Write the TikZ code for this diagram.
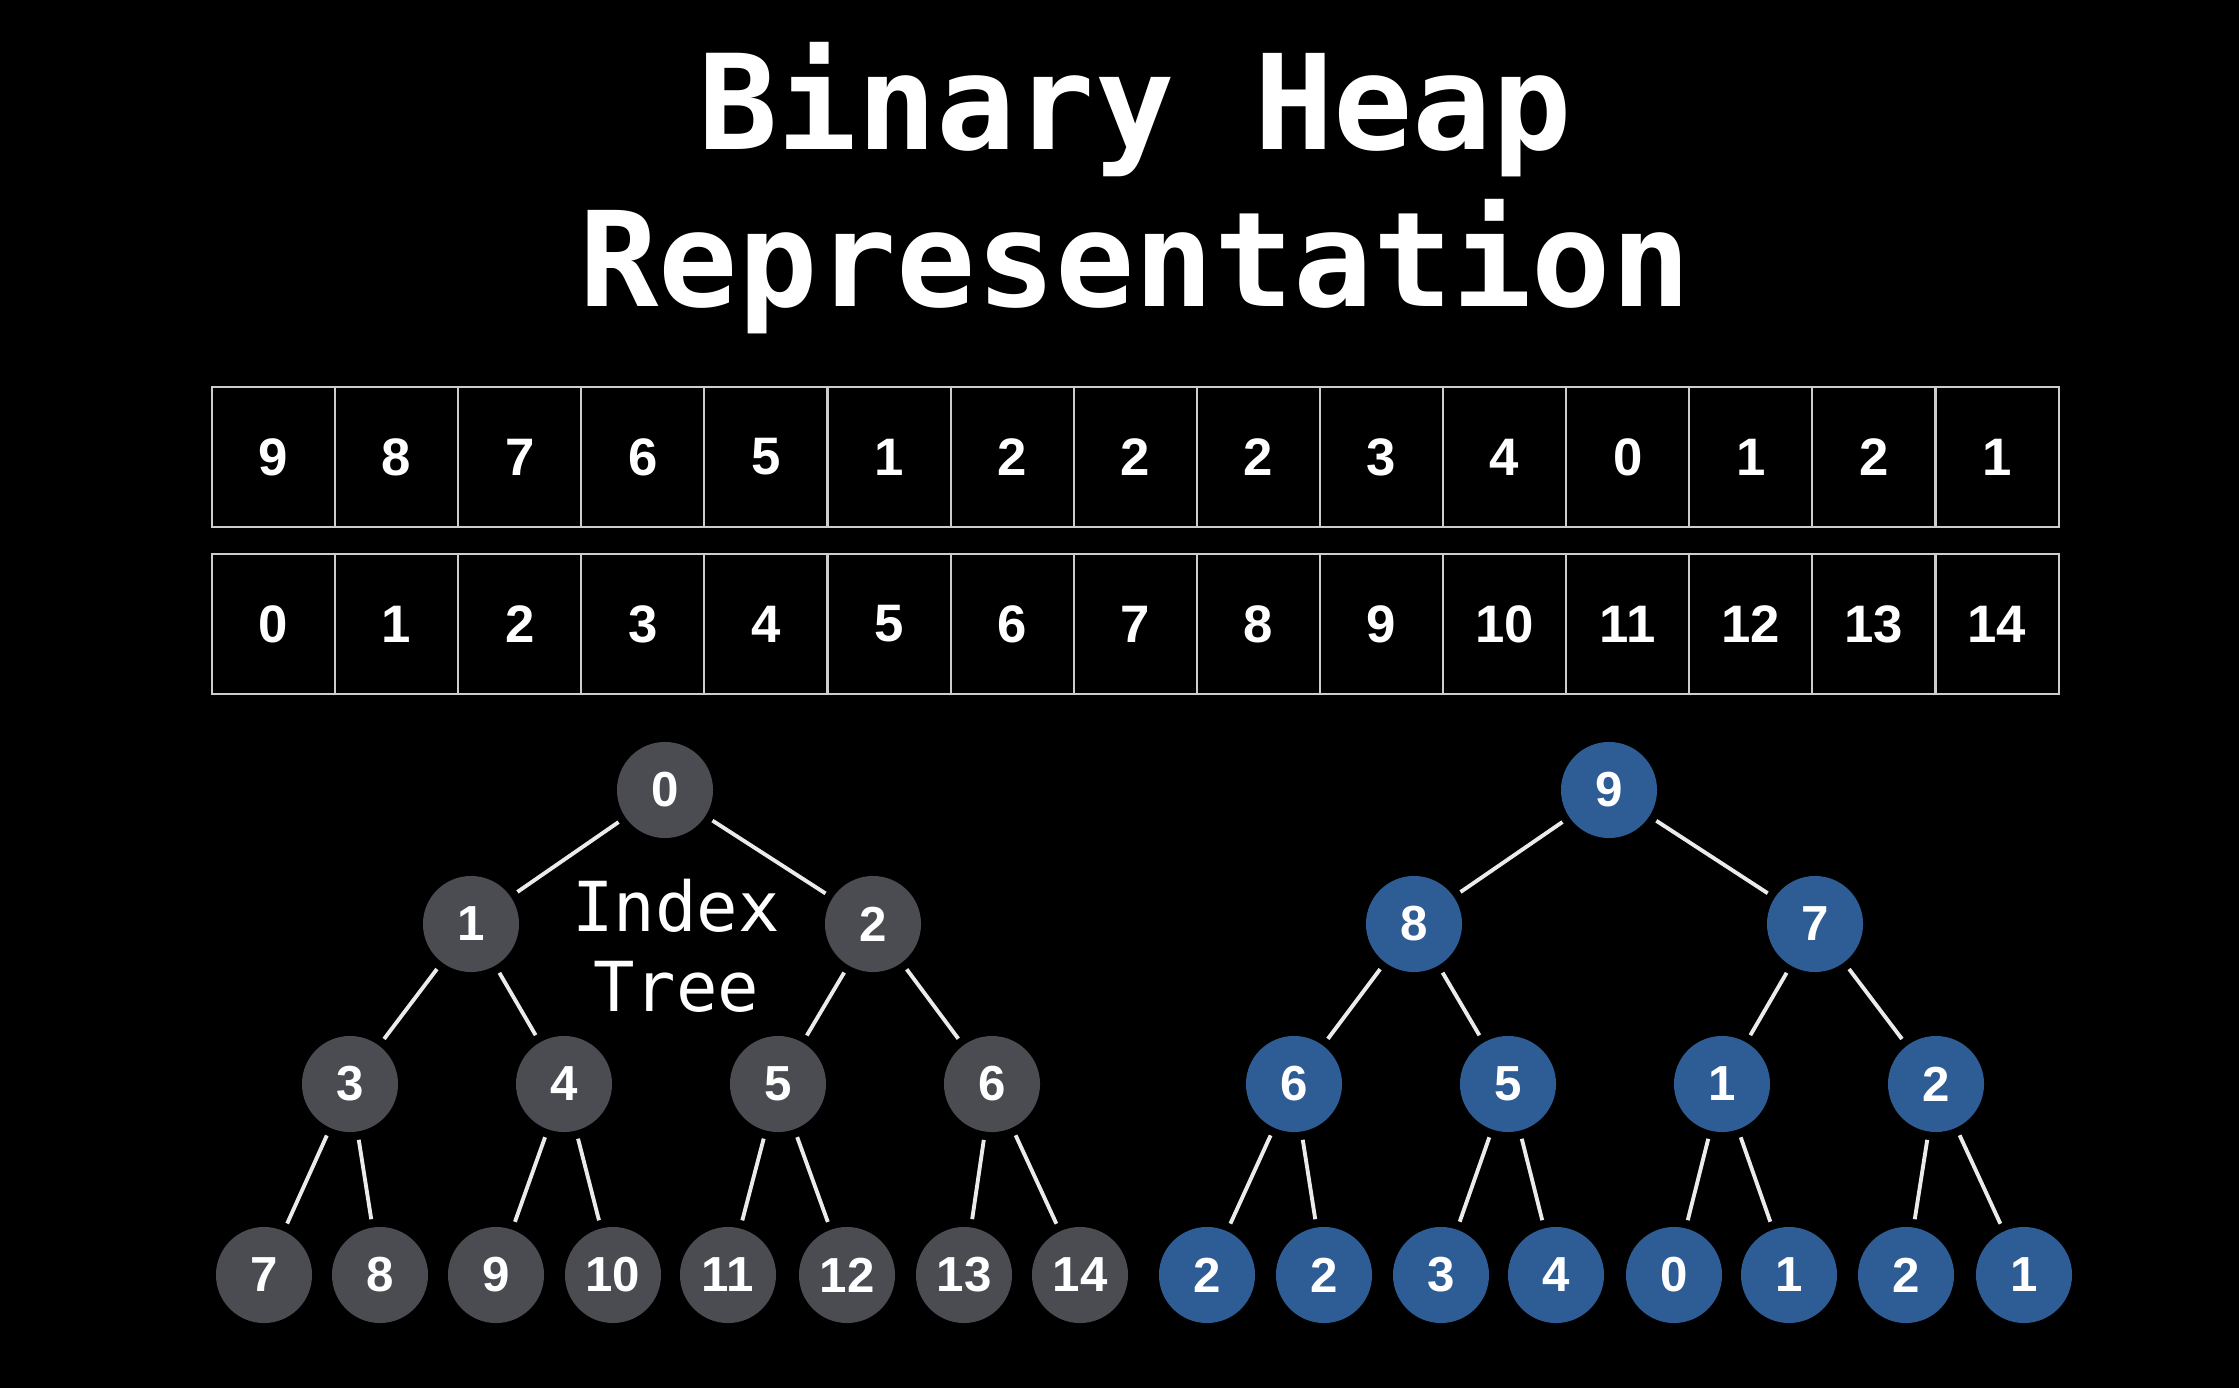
\documentclass[tikz,border=0pt]{standalone}
\usepackage{fontspec}
\setmainfont{Liberation Sans}
\newfontfamily\monofont{DejaVu Sans Mono}
\definecolor{bg}{RGB}{0,0,0}
\definecolor{idxnode}{RGB}{74,76,82}
\definecolor{valnode}{RGB}{46,93,150}
\definecolor{cellline}{RGB}{205,205,205}
\begin{document}
\begin{tikzpicture}[x=0.01cm,y=-0.01cm,
  cell/.style={draw=cellline,line width=0.6pt,minimum width=1.231cm,minimum height=1.4cm,
    inner sep=0pt,text=white,font=\fontsize{15}{15}\bfseries\selectfont},
  tnode/.style={circle,minimum size=0.96cm,inner sep=0pt,text=white,
    font=\fontsize{14}{14}\bfseries\selectfont},
  inode/.style={tnode,fill=idxnode},
  vnode/.style={tnode,fill=valnode},
  edge/.style={draw=white!92!black,line width=1.1pt,shorten >=2.2pt,shorten <=2.2pt}]
\fill[bg] (0,0) rectangle (2239,1388);
\useasboundingbox (0,0) rectangle (2239,1388);

% title
\node[text=white,font=\monofont\fontsize{37.5}{45}\bfseries\selectfont,align=center,anchor=base]
  (title1) at (1135,150) {Binary Heap};
\node[text=white,font=\monofont\fontsize{37.5}{45}\bfseries\selectfont,align=center,anchor=base]
  (title2) at (1135,307) {Representation};

% value array and index array
\foreach \v [count=\i from 0] in {9,8,7,6,5,1,2,2,2,3,4,0,1,2,1} {
  \node[cell] (v\i) at ({212+61.55+123.1*\i},457) {\v};
  \node[cell] (k\i) at ({212+61.55+123.1*\i},624) {\i};
}

% index tree
\node[inode] (a0) at (665,790) {0};
\node[inode] (a1) at (471,924) {1};
\node[inode] (a2) at (873,924) {2};
\node[inode] (a3) at (350,1084) {3};
\node[inode] (a4) at (564,1084) {4};
\node[inode] (a5) at (778,1084) {5};
\node[inode] (a6) at (992,1084) {6};
\foreach \x/\n in {264/7,380/8,496/9,613/10,728/11,847/12,964/13,1080/14}
  \node[inode] (a\n) at (\x,1275) {\n};

% value tree
\node[vnode] (b0) at (1609,790) {9};
\node[vnode] (b1) at (1414,924) {8};
\node[vnode] (b2) at (1815,924) {7};
\node[vnode] (b3) at (1294,1084) {6};
\node[vnode] (b4) at (1508,1084) {5};
\node[vnode] (b5) at (1722,1084) {1};
\node[vnode] (b6) at (1936,1084) {2};
\foreach \x/\n/\v in {1207/7/2,1324/8/2,1441/9/3,1556/10/4,1674/11/0,1789/12/1,1906/13/2,2024/14/1}
  \node[vnode] (b\n) at (\x,1275) {\v};

% parent-child links
\foreach \p/\c in {0/1,0/2,1/3,1/4,2/5,2/6,3/7,3/8,4/9,4/10,5/11,5/12,6/13,6/14} {
  \draw[edge] (a\p) -- (a\c);
  \draw[edge] (b\p) -- (b\c);
}

% tree label
\node[text=white,font=\monofont\fontsize{19.6}{22.8}\selectfont,align=center,anchor=base]
  (lbl1) at (676,931) {Index};
\node[text=white,font=\monofont\fontsize{19.6}{22.8}\selectfont,align=center,anchor=base]
  (lbl2) at (676,1011) {Tree};
\end{tikzpicture}
\end{document}
